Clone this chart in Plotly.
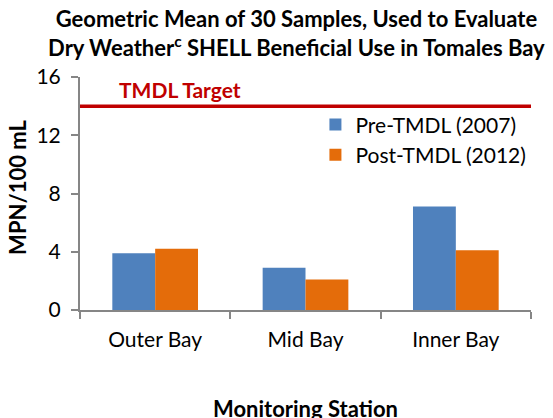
import plotly.graph_objects as go

categories = ["Outer Bay", "Mid Bay", "Inner Bay"]
pre_tmdl = [3.9, 2.9, 7.1]
post_tmdl = [4.2, 2.1, 4.1]
tmdl_target = 14
y_ticks = [0, 4, 8, 12, 16]

FONT = "Lato"
axis_color = "#868686"

fig = go.Figure()
fig.add_trace(go.Bar(x=categories, y=pre_tmdl, name="Pre-TMDL (2007)",
                     marker=dict(color="#4F81BD", line=dict(width=0)),
                     legendgroup="a"))
fig.add_trace(go.Bar(x=categories, y=post_tmdl, name="Post-TMDL (2012)",
                     marker=dict(color="#E46C0A", line=dict(width=0)),
                     legendgroup="b"))

fig.add_shape(type="line", xref="paper", x0=0, x1=1, yref="y", y0=tmdl_target, y1=tmdl_target,
              line=dict(color="#C00000", width=3.5))

fig.add_annotation(text="<b>TMDL Target</b>", xref="paper", x=0.082, xanchor="left",
                   yref="y", y=tmdl_target, yanchor="bottom", yshift=2, showarrow=False,
                   font=dict(family=FONT, size=21, color="#C00000"))

fig.add_annotation(text="<b>MPN/100 mL</b>", xref="paper", x=0, xanchor="center", xshift=-62,
                   yref="paper", y=0.524, yanchor="middle",
                   textangle=-90, showarrow=False, font=dict(family=FONT, size=22, color="black"))
fig.add_annotation(text="<b>Monitoring Station</b>", xref="paper", x=0.5, xanchor="center",
                   yref="paper", y=0, yanchor="middle",
                   yshift=-98, showarrow=False, font=dict(family=FONT, size=22, color="black"))

fig.update_layout(
    width=553, height=418,
    margin=dict(l=80, r=22, t=77, b=108, autoexpand=False),
    paper_bgcolor="white", plot_bgcolor="white",
    font=dict(family=FONT, size=21, color="black"),
    title=dict(text="<b>Geometric Mean of 30 Samples, Used to Evaluate<br>Dry Weather<sup>c</sup> SHELL Beneficial Use in Tomales Bay</b>",
               x=0.536, xanchor="center", yref="container", y=0.935, yanchor="top",
               font=dict(family=FONT, size=22, color="black")),
    barmode="group", bargap=0.43, bargroupgap=0,
    showlegend=True,
    legend=dict(x=0.522, y=0.883, xanchor="left", yanchor="top",
                bgcolor="rgba(0,0,0,0)", traceorder="grouped", tracegroupgap=0,
                font=dict(family=FONT, size=21, color="black")),
    xaxis=dict(showline=True, linecolor=axis_color, linewidth=2, ticks="outside",
               tickson="boundaries", ticklen=7, tickcolor=axis_color, tickwidth=2,
               showgrid=False, tickfont=dict(size=21), ticklabelstandoff=10),
    yaxis=dict(range=[0, 16], tickvals=y_ticks, showline=True, linecolor=axis_color, linewidth=2,
               ticks="outside", ticklen=7, tickcolor=axis_color, tickwidth=2,
               showgrid=False, zeroline=False, tickfont=dict(size=21), ticklabelstandoff=6),
)

fig.write_html("out.html", config={"displayModeBar": False},
               post_script="document.body.style.margin='0';")
